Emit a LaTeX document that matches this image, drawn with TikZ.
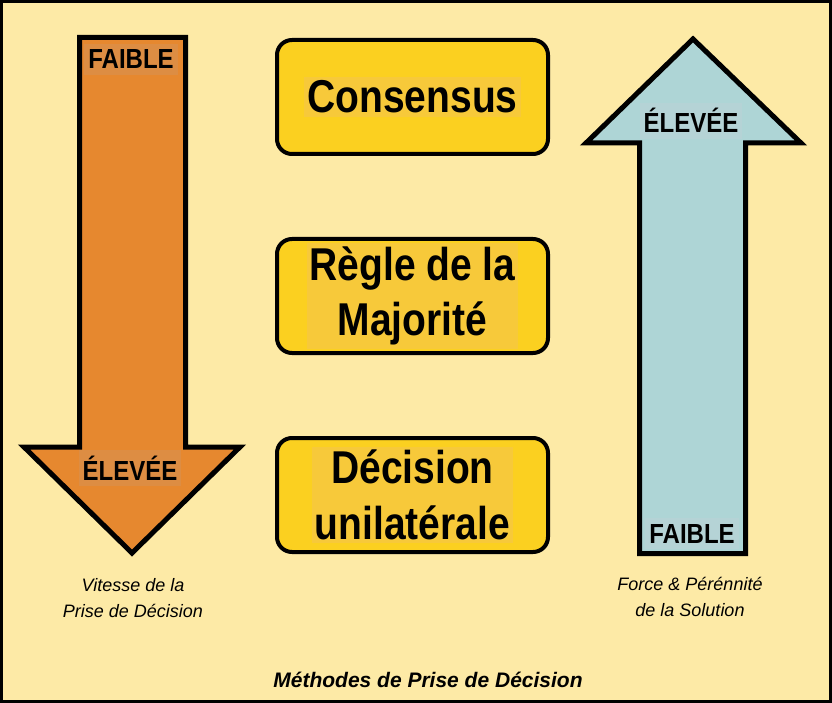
\documentclass[tikz,border=0pt]{standalone}
\usepackage{fontspec}
\setmainfont{Liberation Sans}
\usetikzlibrary{positioning}
\definecolor{paper}{RGB}{253,234,166}
\definecolor{speedorange}{RGB}{230,136,47}
\definecolor{speedlabel}{RGB}{221,141,67}
\definecolor{strengthblue}{RGB}{174,213,214}
\definecolor{strengthlabel}{RGB}{181,211,214}
\definecolor{methodyellow}{RGB}{251,208,32}
\definecolor{methodlabel}{RGB}{247,201,58}

\begin{document}
\begin{tikzpicture}[x=1pt, y=-1pt,
  level/.style={font=\fontsize{24}{26}\selectfont\bfseries, yscale=1.15, transform shape, inner xsep=4pt, inner ysep=5pt},
  method/.style={draw=black, line width=4pt, rounded corners=15pt, fill=methodyellow, minimum width=271pt, minimum height=114pt},
  methodtext/.style={font=\fontsize{39}{47}\selectfont\bfseries, align=center, yscale=1.18, transform shape, fill=methodlabel, inner sep=3pt},
  caption/.style={font=\fontsize{18}{26}\selectfont\itshape, align=center}]
\useasboundingbox (0,0) rectangle (832,703);
\draw[line width=2.5pt, fill=paper] (1.5,1.5) rectangle (830.5,701.5);

% speed of the decision
\draw[line width=5pt, fill=speedorange] (79.5,37.5) -- (185.5,37.5) -- (185.5,447) -- (240,447) -- (132,553) -- (24,447) -- (79.5,447) -- cycle;
\node[level, fill=speedlabel, anchor=base] (speedlow) at (131,69) {FAIBLE};
\node[level, fill=speedlabel, anchor=base] (speedhigh) at (130,480) {ÉLEVÉE};
\node[caption] (speed) at (133,598) {Vitesse de la\\Prise de Décision};

% strength of the solution
\draw[line width=5pt, fill=strengthblue] (693,39) -- (801,143) -- (745.5,143) -- (745.5,553.5) -- (639.5,553.5) -- (639.5,143) -- (586,143) -- cycle;
\node[level, fill=strengthlabel, anchor=base] (strengthhigh) at (691,133) {ÉLEVÉE};
\node[level, fill=strengthlabel, anchor=base] (strengthlow) at (692,543) {FAIBLE};
\node[caption] (strength) at (690,597) {Force \& Pérénnité\\de la Solution};

% methods
\node[method] (consensus) at (412.5,97) {};
\node[methodtext] (consensustext) at (consensus) {Consensus};
\node[method, below=81pt of consensus] (majority) {};
\node[methodtext] (majoritytext) at (majority) {Règle de la\\Majorité};
\node[method, below=81pt of majority] (unilateral) {};
\node[methodtext] (unilateraltext) at (unilateral) {Décision\\unilatérale};

\node[font=\fontsize{21}{24}\selectfont\bfseries\itshape, anchor=base] (title) at (428,687) {Méthodes de Prise de Décision};
\end{tikzpicture}
\end{document}
